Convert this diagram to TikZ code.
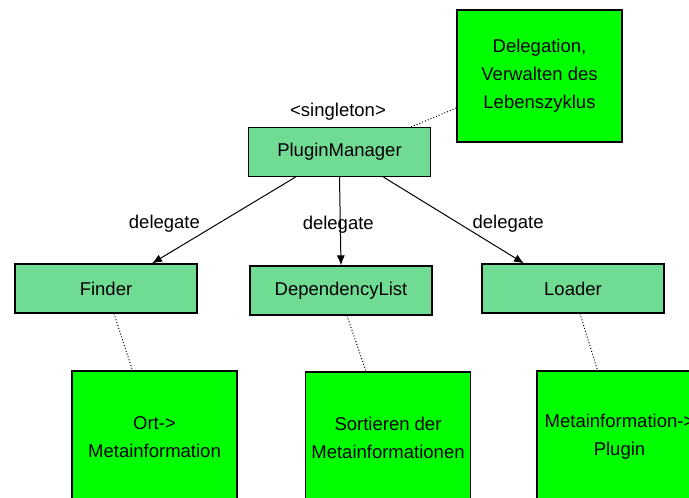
\documentclass[tikz,border=0pt]{standalone}
\usepackage{fontspec}
\setmainfont{Liberation Sans}
\usetikzlibrary{arrows.meta}
\definecolor{classgreen}{HTML}{70DB93}
\definecolor{notegreen}{HTML}{00FF00}

\begin{document}
\begin{tikzpicture}[x=1pt,y=-1pt,
  every node/.style={font=\fontsize{18.5}{28}\selectfont},
  class/.style={draw,line width=1.2pt,fill=classgreen,minimum width=182pt,minimum height=49pt,inner sep=0pt},
  note/.style={draw,line width=1.2pt,fill=notegreen,minimum width=165pt,minimum height=132pt,align=center,inner sep=0pt},
  delegate/.style={line width=1pt,-{Latex[length=10pt,width=8pt]}},
  link/.style={dotted,line width=1pt}]
  \useasboundingbox (0,0) rectangle (689,498);
  \path[clip] (0,0) rectangle (689,498);

  % classes
  \node[class] (mgr) at (339.5,152) {PluginManager};
  \node (stereo) at (338,112) {<singleton>};
  \node[class] (finder) at (106,288.5) {Finder};
  \node[class] (deps) at (341,290.5) {DependencyList};
  \node[class] (loader) at (573,288.5) {Loader};

  % notes
  \node[note] (life) at (539.5,76) {Delegation,\\Verwalten des\\Lebenszyklus};
  \node[note] (ort) at (154.5,437) {Ort->\\Metainformation};
  \node[note] (sort) at (388,438) {Sortieren der\\Metainformationen};
  \node[note] (plug) at (619.5,437) {Metainformation->\\Plugin};

  \draw[link] ([xshift=-20pt]mgr.north east) -- ([yshift=-32pt]life.west);
  \draw[link] ([xshift=8pt]finder.south) -- ([xshift=-22pt]ort.north);
  \draw[link] ([xshift=6pt]deps.south) -- ([xshift=-22pt]sort.north);
  \draw[link] ([xshift=7pt]loader.south) -- ([xshift=-22pt]plug.north);

  % delegation
  \draw[delegate] ([xshift=-44pt]mgr.south) -- ([xshift=46pt]finder.north) node[pos=0.5,left=20pt,yshift=-3pt] {delegate};
  \draw[delegate] (mgr.south) -- (deps.north) node[pos=0.5,xshift=-2pt,yshift=-3pt] {delegate};
  \draw[delegate] ([xshift=44pt]mgr.south) -- ([xshift=-49pt]loader.north) node[pos=0.5,right=15pt,yshift=-3pt] {delegate};
\end{tikzpicture}
\end{document}
